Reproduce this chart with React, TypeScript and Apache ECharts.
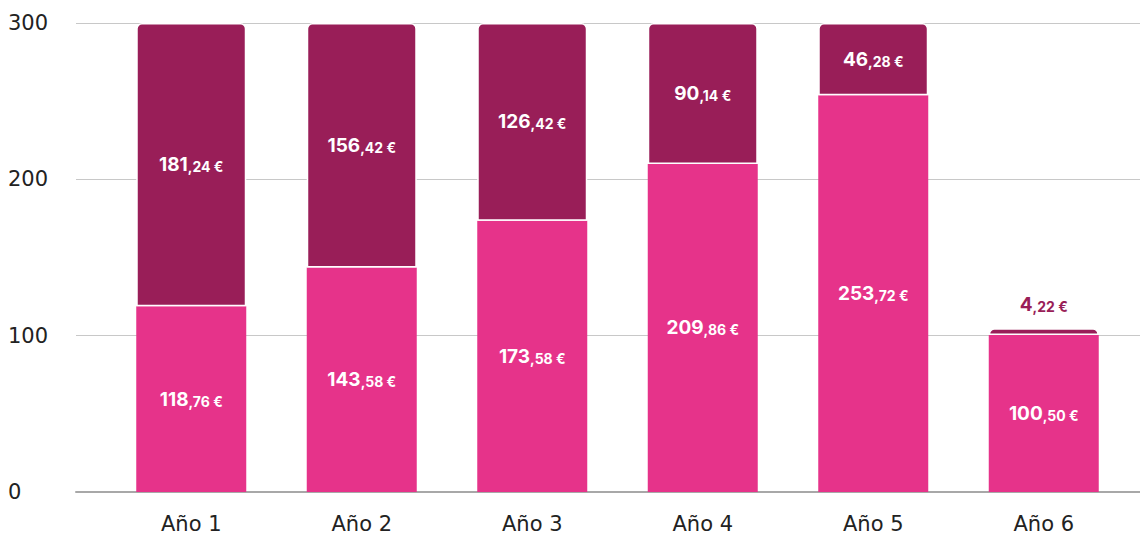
import React, { useEffect, useRef } from "react";
import * as echarts from "echarts";

const categories = ["Año 1", "Año 2", "Año 3", "Año 4", "Año 5", "Año 6"];
const baseValues = [118.76, 143.58, 173.58, 209.86, 253.72, 100.5];
const topValues = [181.24, 156.42, 126.42, 90.14, 46.28, 4.22];
const yTicks = { min: 0, max: 300, interval: 100 };

const PINK = "#E6338A";
const DARK = "#991E58";
const FONT = "Inter, 'Open Sans', sans-serif";
const AXIS_FONT = "'DejaVu Sans', sans-serif";

function fmt(v: number) {
  const s = v.toFixed(2).split(".");
  return `{a|${s[0]}}{b|,${s[1]} €}`;
}

function rich(color: string) {
  return {
    a: { fontSize: 19, fontWeight: 700, color, fontFamily: FONT },
    b: { fontSize: 14, fontWeight: 700, color, fontFamily: FONT, padding: [4, 0, 0, 0] },
  };
}

export default function App() {
  const ref = useRef<HTMLDivElement>(null);
  useEffect(() => {
    if (!ref.current) return;
    const chart = echarts.init(ref.current, null, { renderer: "svg" });
    chart.setOption({
      animation: false,
      grid: [
        { left: 76, right: 0, top: 23, bottom: 42 },
        { left: 106, right: 11, top: 23, bottom: 42 },
      ],
      xAxis: [
        {
          gridIndex: 0,
          type: "category",
          data: [""],
          axisLine: { show: true, lineStyle: { color: "#a8a8a8", width: 2 } },
          axisTick: { show: false },
          axisLabel: { show: false },
        },
        {
          gridIndex: 1,
          type: "category",
          data: categories,
          axisLine: { show: false },
          axisTick: { show: false },
          axisLabel: { color: "#222", fontSize: 21, fontFamily: AXIS_FONT, margin: 21 },
        },
      ],
      yAxis: [
        {
          gridIndex: 0,
          type: "value",
          ...yTicks,
          axisLine: { show: false },
          axisTick: { show: false },
          splitLine: { lineStyle: { color: "#c8c8c8", width: 1 } },
          axisLabel: { color: "#222", fontSize: 21, fontFamily: AXIS_FONT, align: "left", margin: 68 },
        },
        {
          gridIndex: 1,
          type: "value",
          ...yTicks,
          show: false,
          splitLine: { show: false },
        },
      ],
      series: [
        {
          type: "bar",
          xAxisIndex: 1,
          yAxisIndex: 1,
          stack: "s",
          barWidth: 110,
          data: baseValues,
          itemStyle: { color: PINK },
          label: {
            show: true,
            position: "inside",
            formatter: (p: any) => fmt(p.value),
            rich: rich("#fff"),
          },
        },
        {
          type: "bar",
          xAxisIndex: 1,
          yAxisIndex: 1,
          stack: "s",
          barWidth: 110,
          data: topValues.map((v, i) =>
            i === topValues.length - 1
              ? {
                  value: v,
                  label: { position: "top", distance: 14, rich: rich(DARK) },
                }
              : v
          ),
          itemStyle: {
            color: DARK,
            borderColor: "#fff",
            borderWidth: 1.5,
            borderRadius: [5, 5, 0, 0],
          },
          label: {
            show: true,
            position: "inside",
            formatter: (p: any) => fmt(p.value),
            rich: rich("#fff"),
          },
        },
      ],
    });
    return () => chart.dispose();
  }, []);
  return (
    <div
      ref={ref}
      style={{ position: "fixed", left: 0, top: 0, width: 1140, height: 534, background: "#fff" }}
    />
  );
}
